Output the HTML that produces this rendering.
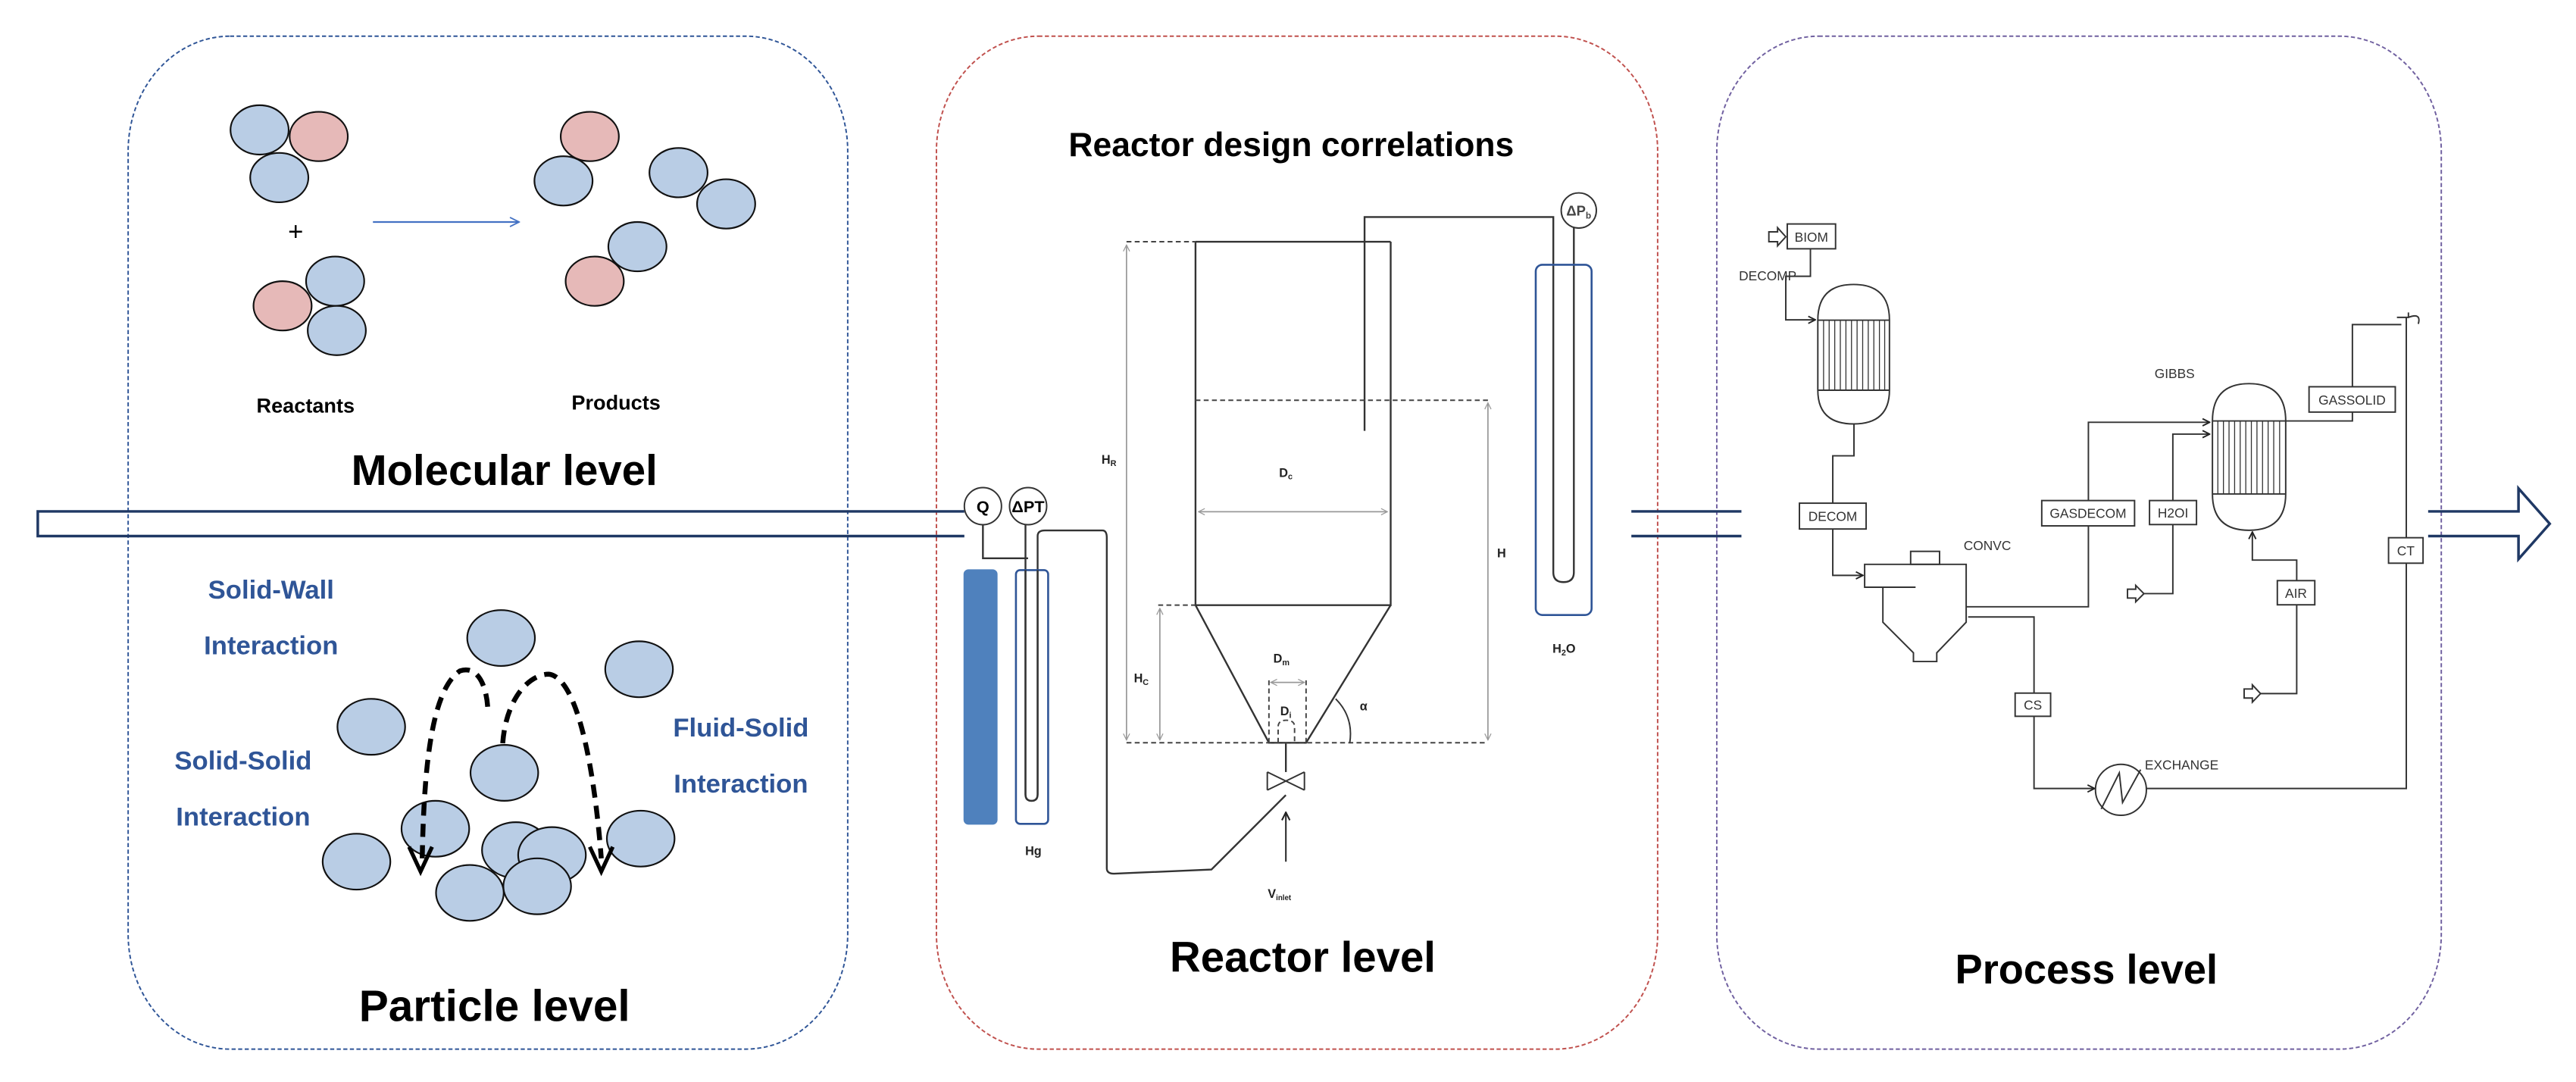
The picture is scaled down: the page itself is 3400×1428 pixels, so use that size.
<!DOCTYPE html>
<html><head><meta charset="utf-8"><style>
html,body{margin:0;padding:0;background:#fff;}
svg{display:block;}
text{font-family:"Liberation Sans",Arial,sans-serif;}
</style></head><body>
<svg width="3400" height="1428" viewBox="0 0 1568 658" preserveAspectRatio="none" xmlns="http://www.w3.org/2000/svg">
<defs>
<marker id="ah" viewBox="0 0 10 10" refX="9" refY="5" markerWidth="7" markerHeight="7" orient="auto"><path d="M1,1 L9,5 L1,9" fill="none" stroke="#4472c4" stroke-width="1.2"/></marker>
<marker id="ag" viewBox="0 0 10 10" refX="9" refY="5" markerWidth="6" markerHeight="6" orient="auto-start-reverse"><path d="M1,1 L9,5 L1,9" fill="none" stroke="#999" stroke-width="1.2"/></marker>
<marker id="ak" viewBox="0 0 10 10" refX="9" refY="5" markerWidth="6" markerHeight="6" orient="auto"><path d="M1,1 L9,5 L1,9" fill="none" stroke="#222" stroke-width="1.6"/></marker>
</defs>
<rect width="1568" height="658" fill="#fff"/>
<!-- panels -->
<rect x="78" y="22" width="438" height="616" rx="62" ry="70" fill="none" stroke="#2f5597" stroke-width="0.9" stroke-dasharray="2.5,1.5"/>
<rect x="570" y="22" width="439" height="616" rx="62" ry="70" fill="none" stroke="#c0504d" stroke-width="0.9" stroke-dasharray="2.5,1.5"/>
<rect x="1045" y="22" width="441" height="616" rx="62" ry="70" fill="none" stroke="#7060a0" stroke-width="0.9" stroke-dasharray="2.5,1.5"/>

<!-- big hollow arrow -->
<g stroke="#1f3864" stroke-width="1.6" fill="none">
<path d="M587,311 H23 V326 H587"/>
<path d="M993,311 H1060 M993,326 H1060"/>
<path d="M1478,311 H1533 V297 L1552,318.5 L1533,340 V326 H1478"/>
</g>

<!-- molecules -->
<g stroke="#111" stroke-width="1" >
<ellipse cx="158" cy="79" rx="17.7" ry="15" fill="#b9cde5"/>
<ellipse cx="194" cy="83" rx="17.7" ry="15" fill="#e6b9b8"/>
<ellipse cx="170" cy="108" rx="17.7" ry="15" fill="#b9cde5"/>
<ellipse cx="204" cy="171" rx="17.7" ry="15" fill="#b9cde5"/>
<ellipse cx="172" cy="186" rx="17.7" ry="15" fill="#e6b9b8"/>
<ellipse cx="205" cy="201" rx="17.7" ry="15" fill="#b9cde5"/>
<ellipse cx="359" cy="83" rx="17.7" ry="15" fill="#e6b9b8"/>
<ellipse cx="343" cy="110" rx="17.7" ry="15" fill="#b9cde5"/>
<ellipse cx="413" cy="105" rx="17.7" ry="15" fill="#b9cde5"/>
<ellipse cx="442" cy="124" rx="17.7" ry="15" fill="#b9cde5"/>
<ellipse cx="388" cy="150" rx="17.7" ry="15" fill="#b9cde5"/>
<ellipse cx="362" cy="171" rx="17.7" ry="15" fill="#e6b9b8"/>
</g>
<text x="180" y="146" font-size="16" text-anchor="middle">+</text>
<line x1="227" y1="135" x2="316" y2="135" stroke="#4472c4" stroke-width="1" marker-end="url(#ah)"/>
<text x="186" y="251" font-size="12.5" font-weight="bold" text-anchor="middle">Reactants</text>
<text x="375" y="249" font-size="12.5" font-weight="bold" text-anchor="middle">Products</text>
<text x="307" y="295" font-size="26" font-weight="bold" text-anchor="middle">Molecular level</text>

<!-- particles -->
<g font-size="16" font-weight="bold" fill="#2f5597" text-anchor="middle">
<text x="165" y="364">Solid-Wall</text>
<text x="165" y="398">Interaction</text>
<text x="148" y="468">Solid-Solid</text>
<text x="148" y="502">Interaction</text>
<text x="451" y="448">Fluid-Solid</text>
<text x="451" y="482">Interaction</text>
</g>
<g stroke="#111" stroke-width="1" fill="#b9cde5">
<ellipse cx="305" cy="388" rx="20.6" ry="17"/>
<ellipse cx="389" cy="407" rx="20.6" ry="17"/>
<ellipse cx="226" cy="442" rx="20.6" ry="17"/>
<ellipse cx="307" cy="470" rx="20.6" ry="17"/>
<ellipse cx="265" cy="504" rx="20.6" ry="17"/>
<ellipse cx="217" cy="524" rx="20.6" ry="17"/>
<ellipse cx="314" cy="517" rx="20.6" ry="17"/>
<ellipse cx="336" cy="520" rx="20.6" ry="17"/>
<ellipse cx="390" cy="510" rx="20.6" ry="17"/>
<ellipse cx="286" cy="543" rx="20.6" ry="17"/>
<ellipse cx="327" cy="539" rx="20.6" ry="17"/>
</g>
<g fill="none" stroke="#000" stroke-width="3" stroke-dasharray="8,5">
<path d="M257,522 C258,470 262,420 280,408 C292,404 297,420 297,434"/>
<path d="M306,452 C308,425 322,410 334,410 C352,412 362,470 366,522"/>
</g>
<g fill="none" stroke="#000" stroke-width="2.4">
<path d="M249,515 L256,530 L263,515"/>
<path d="M359,515 L366,530 L373,515"/>
</g>
<text x="301" y="621" font-size="27" font-weight="bold" text-anchor="middle">Particle level</text>

<!-- reactor panel -->
<text x="786" y="95" font-size="20.5" font-weight="bold" text-anchor="middle">Reactor design correlations</text>
<g fill="none" stroke="#333" stroke-width="1.1">
<path d="M727.7,147 H846.5 M727.7,147 V368 H846.5 V147"/>
<path d="M727.7,368 L772.4,451.7 H795 L846.5,368"/>
<path d="M830.6,262 V132 H945.5 V348 Q945.5,354 951.7,354 Q958,354 958,348 V138"/>
<path d="M782.7,451.7 V469.5"/>
<path d="M771.4,469.5 L794,480.5 M771.4,480.5 L794,469.5 M771.4,469.5 V480.5 M794,469.5 V480.5" stroke-width="0.9"/>
<path d="M598.3,319 V339.5 H625.8"/>
<path d="M624.2,319 V483 Q624.2,487 627.9,487 Q631.6,487 631.6,483 V326 Q631.6,322.6 636,322.6 H671 Q673.7,322.6 673.7,327 V528 Q673.7,531.3 678,531.3 L737.4,528.8 L782.7,483.5"/>
</g>
<line x1="782.7" y1="524" x2="782.7" y2="494" stroke="#333" stroke-width="1" marker-end="url(#ak)"/>
<circle cx="598.3" cy="307.8" r="11.3" fill="#fff" stroke="#333" stroke-width="0.9"/>
<circle cx="625.8" cy="307.8" r="11.3" fill="#fff" stroke="#333" stroke-width="0.9"/>
<circle cx="961" cy="128" r="10.7" fill="#fff" stroke="#333" stroke-width="0.9"/>
<text x="598.3" y="311.5" font-size="10" font-weight="bold" text-anchor="middle">Q</text>
<text x="625.8" y="311.5" font-size="10" font-weight="bold" text-anchor="middle">ΔPT</text>
<text x="961" y="131" font-size="8.5" font-weight="bold" text-anchor="middle" fill="#444">ΔP<tspan font-size="5.5" dy="2">b</tspan></text>
<rect x="587" y="346.7" width="19.7" height="154.3" rx="2.5" fill="#4f81bd" stroke="#4f81bd"/>
<rect x="618.4" y="346.7" width="19.6" height="154.3" rx="2.5" fill="none" stroke="#2f5597" stroke-width="1.2"/>
<path d="M624.2,346.7 V483 Q624.2,487 627.9,487 Q631.6,487 631.6,483 V346.7" fill="none" stroke="#333" stroke-width="1.1"/>
<rect x="934.8" y="161" width="34" height="213" rx="4" fill="none" stroke="#2f5597" stroke-width="1.2"/>
<g fill="none" stroke="#444" stroke-width="0.9" stroke-dasharray="3,2">
<path d="M685.7,147 H727.7"/>
<path d="M727.7,243.4 H905.7"/>
<path d="M685.7,451.7 H905.7"/>
<path d="M705,368 H727.7"/>
<path d="M772.4,451.7 V413.6 M795,451.7 V413.6"/>
<path d="M778,451.7 V442 Q778,438 783,438 Q788,438 788,442 V451.7"/>
</g>
<g stroke="#999" stroke-width="0.8">
<line x1="685.7" y1="149" x2="685.7" y2="450" marker-start="url(#ag)" marker-end="url(#ag)"/>
<line x1="706" y1="370" x2="706" y2="450" marker-start="url(#ag)" marker-end="url(#ag)"/>
<line x1="905.7" y1="245" x2="905.7" y2="450" marker-start="url(#ag)" marker-end="url(#ag)"/>
<line x1="729.5" y1="311.2" x2="844.5" y2="311.2" marker-start="url(#ag)" marker-end="url(#ag)"/>
<line x1="773.5" y1="415" x2="794" y2="415" marker-start="url(#ag)" marker-end="url(#ag)"/>
</g>
<path d="M821.6,451.7 Q824,436 813,425" fill="none" stroke="#333" stroke-width="0.9"/>
<g font-size="7.5" font-weight="bold" fill="#222" text-anchor="middle">
<text x="675" y="282">H<tspan font-size="5" dy="1.5">R</tspan></text>
<text x="694.7" y="415">H<tspan font-size="5" dy="1.5">C</tspan></text>
<text x="914" y="339">H</text>
<text x="782.7" y="290">D<tspan font-size="5" dy="1.5">c</tspan></text>
<text x="780" y="403">D<tspan font-size="5" dy="1.5">m</tspan></text>
<text x="782.7" y="435">D<tspan font-size="5" dy="1.5">i</tspan></text>
<text x="830" y="432">α</text>
<text x="952" y="397">H<tspan font-size="5" dy="1.5">2</tspan><tspan dy="-1.5">O</tspan></text>
<text x="629" y="520">Hg</text>
<text x="778.8" y="546">V<tspan font-size="4.5" dy="1.5">inlet</tspan></text>
</g>
<text x="793" y="591" font-size="26" font-weight="bold" text-anchor="middle">Reactor level</text>

<!-- process panel -->
<g fill="none" stroke="#333" stroke-width="0.9">
<path d="M1076.7,141 H1082 V138.5 L1087,144 L1082,149.5 V147 H1076.7 Z"/>
<rect x="1087.9" y="136.2" width="29.4" height="15.1"/>
<path d="M1102,151.3 V168 H1087 V194.5 H1105" marker-end="url(#ak)"/>
<path d="M1106.5,194.7 V237.3 Q1106.5,257.8 1128.3,257.8 Q1150.1,257.8 1150.1,237.3 V194.7 Q1150.1,173 1128.3,173 Q1106.5,173 1106.5,194.7 Z"/>
<path d="M1106.5,194.7 H1150.1 M1106.5,237.3 H1150.1"/>
<path d="M1110,194.7V237.3 M1113.4,194.7V237.3 M1116.8,194.7V237.3 M1120.2,194.7V237.3 M1123.6,194.7V237.3 M1127,194.7V237.3 M1130.4,194.7V237.3 M1133.8,194.7V237.3 M1137.2,194.7V237.3 M1140.6,194.7V237.3 M1144,194.7V237.3 M1147.2,194.7V237.3" stroke-width="0.6"/>
<path d="M1128.5,257.8 V277.2 H1115.6 V306"/>
<rect x="1095.3" y="306" width="40.6" height="15.7"/>
<path d="M1115.6,321.7 V349.9 H1134" marker-end="url(#ak)"/>
<path d="M1135,343.2 H1196.8 V378.4 L1178.9,397 V402.3 H1164.7 V397 L1146.1,378.4 V357.1 H1135 Z"/>
<path d="M1146.1,357.1 H1166"/>
<rect x="1163" y="335.3" width="17.6" height="7.9"/>
<path d="M1196.8,369 H1271.2 V256.8 H1345" marker-end="url(#ak)"/>
<rect x="1242.8" y="304.4" width="56.5" height="15.4" fill="#fff"/>
<path d="M1198,375.2 H1238.1 V479.5 H1275" marker-end="url(#ak)"/>
<rect x="1226.6" y="421.5" width="21.6" height="14.1" fill="#fff"/>
<circle cx="1291" cy="480.3" r="15.5"/>
<path d="M1279,492 L1290,470 L1292,488 L1303,468" />
<path d="M1306.5,479.5 H1464.7 V193"/>
<path d="M1459,193 H1466 V190 M1466,193 Q1474,190 1472,197" />
<rect x="1453.9" y="327" width="21" height="15.5" fill="#fff"/>
<path d="M1346.7,256 V300.4 Q1346.7,322.5 1369,322.5 Q1391.3,322.5 1391.3,300.4 V256 Q1391.3,233.3 1369,233.3 Q1346.7,233.3 1346.7,256 Z"/>
<path d="M1346.7,256 H1391.3 M1346.7,300.4 H1391.3"/>
<path d="M1350,256V300.4 M1353.4,256V300.4 M1356.8,256V300.4 M1360.2,256V300.4 M1363.6,256V300.4 M1367,256V300.4 M1370.4,256V300.4 M1373.8,256V300.4 M1377.2,256V300.4 M1380.6,256V300.4 M1384,256V300.4 M1387.6,256V300.4" stroke-width="0.6"/>
<path d="M1295,358.3 H1300 V356 L1305,361 L1300,366 V363.7 H1295 Z"/>
<path d="M1305,361 H1322.6 V264 H1345" marker-end="url(#ak)"/>
<rect x="1308.4" y="304.4" width="28.6" height="14.6" fill="#fff"/>
<path d="M1366,419 H1371 V416.5 L1376,421.8 L1371,427 V424.5 H1366 Z"/>
<path d="M1376,421.8 H1398 V340.6 H1371 V323.5" marker-end="url(#ak)"/>
<rect x="1386.2" y="353.1" width="22.8" height="14.7" fill="#fff"/>
<path d="M1391.3,256 H1431.9 V197.4 H1461.7"/>
<rect x="1405.5" y="235.2" width="52.5" height="15.4" fill="#fff"/>
</g>
<g font-size="8" fill="#333" text-anchor="middle">
<text x="1102.6" y="147">BIOM</text>
<text x="1115.6" y="316.8">DECOM</text>
<text x="1271" y="315">GASDECOM</text>
<text x="1237.4" y="431.5">CS</text>
<text x="1322.7" y="314.8">H2OI</text>
<text x="1397.6" y="363.5">AIR</text>
<text x="1431.7" y="246">GASSOLID</text>
<text x="1464.4" y="337.8">CT</text>
<text x="1209.7" y="334.5">CONVC</text>
<text x="1323.7" y="230">GIBBS</text>
<text x="1328" y="468">EXCHANGE</text>
<text x="1076" y="170.5">DECOMP</text>
</g>
<text x="1270" y="598" font-size="25" font-weight="bold" text-anchor="middle">Process level</text>
</svg>
</body></html>
